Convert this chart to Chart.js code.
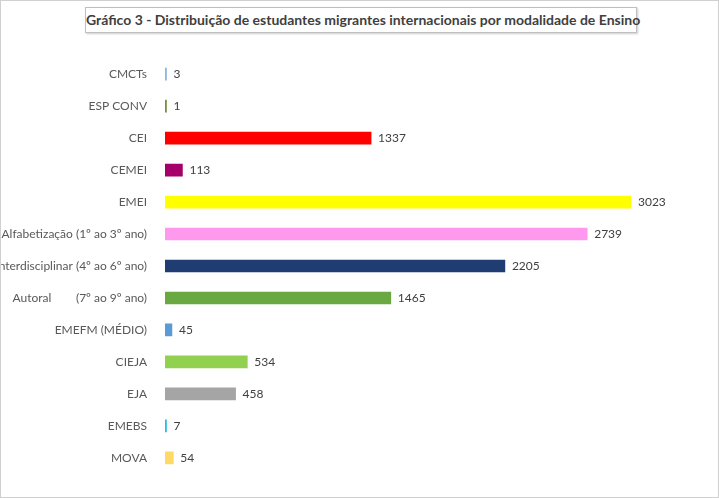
<!DOCTYPE html>
<html><head><meta charset="utf-8">
<script src="https://cdn.jsdelivr.net/npm/chart.js@4"></script>
<style>
html,body{margin:0;padding:0;background:#fff;}
#wrap{position:absolute;left:0;top:0;width:717px;height:496px;border:1px solid #d0d0d0;}
#title{position:absolute;left:84px;top:6px;width:552px;height:26px;border:1px solid #bfbfbf;box-sizing:border-box;font:bold 14px Lato,sans-serif;color:#404040;text-align:center;line-height:24px;white-space:nowrap;box-shadow:1px 1px 2px #ccc;}
#c{position:absolute;left:0;top:40px;}
</style></head><body>
<div id="wrap"><div id="title">Gráfico 3 - Distribuição de estudantes migrantes internacionais por modalidade de Ensino</div>
<canvas id="c" width="717" height="450"></canvas></div>
<script>
const categories=["CMCTs","ESP CONV","CEI","CEMEI","EMEI","Alfabetização (1º ao 3º ano)","Interdisciplinar (4º ao 6º ano)","Autoral        (7º ao 9º ano)","EMEFM (MÉDIO)","CIEJA","EJA","EMEBS","MOVA"];
const values=[3,1,1337,113,3023,2739,2205,1465,45,534,458,7,54];
const colors=["#8eb4e3","#77933c","#ff0000","#a50069","#ffff00","#ff99ee","#1f3c73","#6aa842","#5b9bd5","#92d050","#a5a5a5","#2ebae8","#ffd966"];
const labelPlugin={id:'lbl',afterDatasetsDraw(ch){const ctx=ch.ctx;ctx.save();ctx.font='12px Lato,sans-serif';ctx.fillStyle='#404040';ctx.textBaseline='middle';
ch.getDatasetMeta(0).data.forEach((b,i)=>{ctx.fillText(values[i],b.x+7,b.y);});ctx.restore();}};
new Chart(document.getElementById('c'),{type:'bar',data:{labels:categories,datasets:[{data:values,backgroundColor:colors,barThickness:12,minBarLength:1.5}]},
options:{indexAxis:'y',responsive:false,animation:false,layout:{padding:{left:0,right:13.5,top:5,bottom:8}},
plugins:{legend:{display:false},tooltip:{enabled:false}},
scales:{x:{display:false,min:0,max:3500},y:{afterFit:s=>{s.width=164;},grid:{display:false},border:{display:false},ticks:{color:'#595959',font:{family:'Lato,sans-serif',size:12},padding:10}}}},plugins:[labelPlugin]});
</script></body></html>
